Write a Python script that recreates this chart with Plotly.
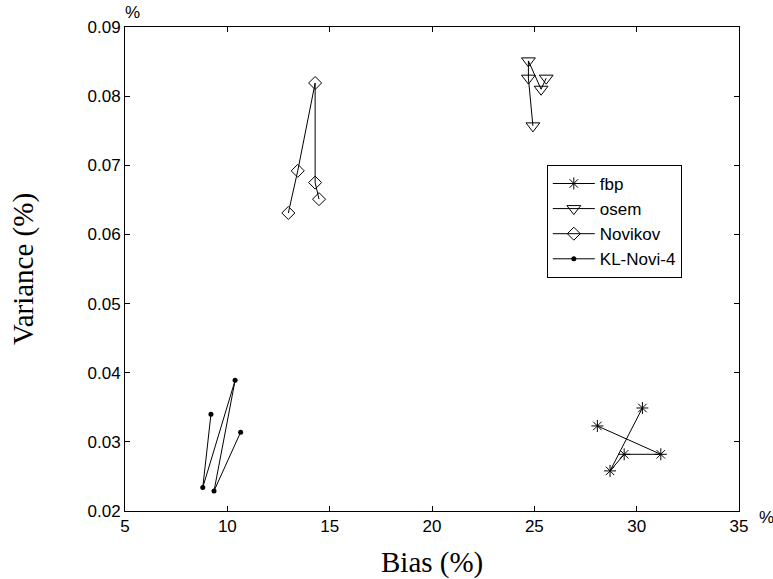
import plotly.graph_objects as go

# Bias / variance pairs for each reconstruction method
fbp_bias = [28.08, 31.18, 29.39, 28.70, 30.28]
fbp_var = [0.0323, 0.0282, 0.0282, 0.0258, 0.0349]

osem_bias = [24.93, 24.71, 24.71, 25.33, 25.58]
osem_var = [0.0757, 0.0826, 0.0851, 0.0810, 0.0826]

novikov_bias = [12.98, 13.44, 14.29, 14.29, 14.48]
novikov_var = [0.0631, 0.0692, 0.0819, 0.0675, 0.0651]

kl_bias = [9.20, 8.80, 10.38, 9.35, 10.65]
kl_var = [0.0340, 0.0234, 0.0389, 0.0229, 0.0314]

x_ticks = [5, 10, 15, 20, 25, 30, 35]
y_ticks = [0.02, 0.03, 0.04, 0.05, 0.06, 0.07, 0.08, 0.09]

TICK_FONT = dict(family="Liberation Sans, Arial, sans-serif", size=17, color="black")
TITLE_FONT = dict(family="Liberation Serif, Times New Roman, serif", size=29, color="black")

fig = go.Figure()

fig.add_trace(go.Scatter(
    x=fbp_bias, y=fbp_var, name="fbp", mode="lines+markers",
    line=dict(color="black", width=1),
    marker=dict(symbol="asterisk-open", size=10, color="black",
                line=dict(color="black", width=1)),
))
fig.add_trace(go.Scatter(
    x=osem_bias, y=osem_var, name="osem", mode="lines+markers",
    line=dict(color="black", width=1),
    marker=dict(symbol="triangle-down-open", size=12, color="black",
                line=dict(color="black", width=1)),
))
fig.add_trace(go.Scatter(
    x=novikov_bias, y=novikov_var, name="Novikov", mode="lines+markers",
    line=dict(color="black", width=1),
    marker=dict(symbol="diamond-open", size=10, color="black",
                line=dict(color="black", width=1)),
))
fig.add_trace(go.Scatter(
    x=kl_bias, y=kl_var, name="KL-Novi-4", mode="lines+markers",
    line=dict(color="black", width=1),
    marker=dict(symbol="circle", size=5, color="black"),
))

axis_common = dict(
    showline=True, linecolor="black", linewidth=1, mirror="ticks",
    ticks="inside", ticklen=5, tickcolor="black", tickwidth=1,
    showgrid=False, zeroline=False, tickfont=TICK_FONT,
)

fig.update_xaxes(range=[5, 35], tickvals=x_ticks, ticktext=[str(v) for v in x_ticks],
                 **axis_common)
fig.update_yaxes(range=[0.02, 0.09], tickvals=y_ticks, tickformat=".2f",
                 **axis_common)

fig.update_layout(
    width=773, height=579,
    margin=dict(l=125, r=34, t=27, b=68, autoexpand=False),
    plot_bgcolor="white", paper_bgcolor="white",
    showlegend=True,
    legend=dict(
        x=0.687, y=0.715, xanchor="left", yanchor="top",
        bgcolor="white", bordercolor="black", borderwidth=1,
        font=TICK_FONT, tracegroupgap=0, itemwidth=42,
    ),
    annotations=[
        dict(text="Bias (%)", xref="paper", yref="paper", x=0.5, y=-0.1074,
             xanchor="center", yanchor="middle", showarrow=False, font=TITLE_FONT),
        dict(text="Variance (%)", xref="paper", yref="paper", x=-0.166, y=0.5,
             xanchor="center", yanchor="middle", textangle=-90, showarrow=False,
             font=TITLE_FONT),
        dict(text="%", xref="paper", yref="paper", x=0.013, y=1.029,
             xanchor="center", yanchor="middle", showarrow=False, font=TICK_FONT),
        dict(text="%", xref="paper", yref="paper", x=1.0456, y=-0.0124,
             xanchor="center", yanchor="middle", showarrow=False, font=TICK_FONT),
    ],
)

fig.write_html("out.html")
